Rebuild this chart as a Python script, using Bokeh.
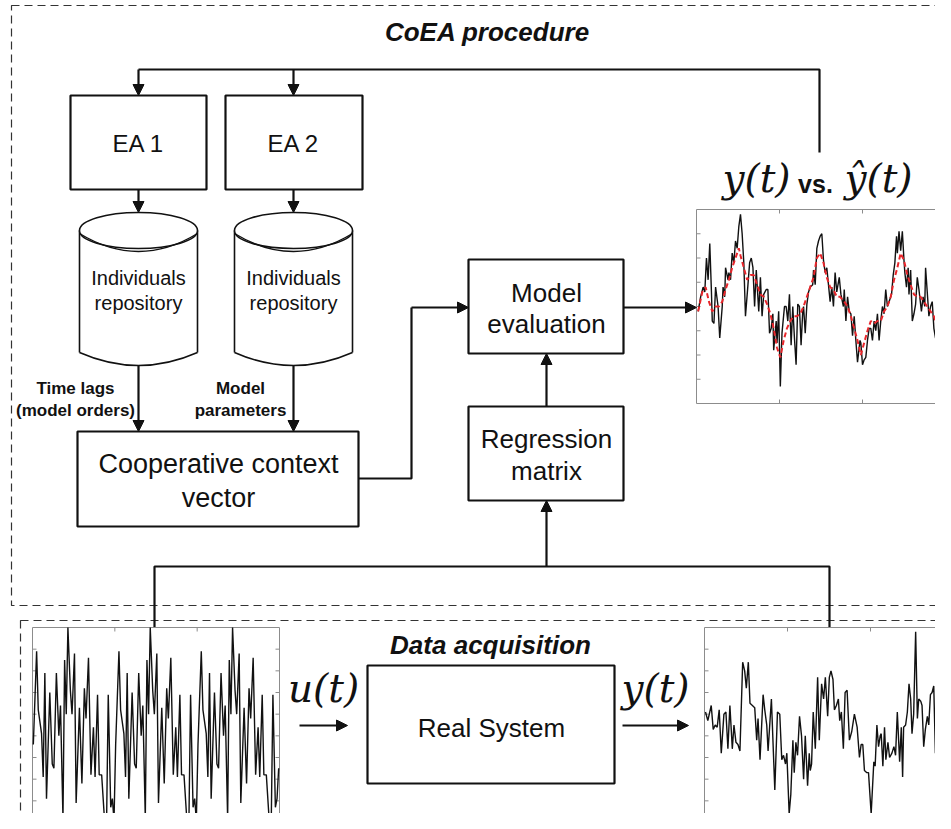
from bokeh.plotting import figure
from bokeh.models import Range1d, Arrow, NormalHead, ColumnDataSource
from bokeh.core.properties import value
from bokeh.embed import file_html
from bokeh.resources import INLINE

# ---------------- data ----------------
# input signal u(t) (bottom-left panel)
u_t = [1, 5, 7, 11, 13, 15, 17, 21, 24, 26, 29, 32, 34, 37, 39, 41, 43, 46, 48, 51,
       53, 57, 60, 63, 65, 68, 71, 74, 76, 79, 81, 84, 87, 90, 92, 95, 97, 99,
       101, 105, 107, 111, 113, 115, 117, 121, 124, 126, 129, 132, 134, 137, 139, 141, 143, 146, 148, 151,
       153, 157, 160, 163, 165, 168, 171, 174, 176, 179, 181, 184, 187, 190, 192, 195, 197, 199,
       201, 205, 207, 211, 213, 215, 217, 221, 224, 226, 229, 232, 234, 237, 239, 241, 243, 246, 248, 251,
       253, 257, 260, 263, 265, 268, 271, 274, 276, 279, 281, 284, 287, 290, 292, 295, 297, 299]
u_v = [3.6, 7.9, 5.2, 4.1, 2.1, 6.9, 1.1, 6.0, 2.7, 2.5, 6.9, 4.0, 5.4, 0.2, 7.5, 5.0, 9.0, 6.1, 5.0, 7.8,
       0.9, 5.3, 1.8, 6.2, 4.8, 7.6, 2.2, 4.4, 2.1, 5.9, 2.2, 2.2, 0.4, 0.1, 5.9, 0.7, 1.1, 0.1,
       3.6, 7.9, 5.2, 4.1, 2.1, 6.9, 1.1, 6.0, 2.7, 2.5, 6.9, 4.0, 5.4, 0.2, 7.5, 5.0, 9.0, 6.1, 5.0, 7.8,
       0.9, 5.3, 1.8, 6.2, 4.8, 7.6, 2.2, 4.4, 2.1, 5.9, 2.2, 2.2, 0.4, 0.1, 5.9, 0.7, 1.1, 0.1,
       3.6, 7.9, 5.2, 4.1, 2.1, 6.9, 1.1, 6.0, 2.7, 2.5, 6.9, 4.0, 5.4, 0.2, 7.5, 5.0, 9.0, 6.1, 5.0, 7.8,
       0.9, 5.3, 1.8, 6.2, 4.8, 7.6, 2.2, 4.4, 2.1, 5.9, 2.2, 2.2, 0.4, 0.1, 5.9, 0.7, 1.1, 2.5]

# measured output y(t) (bottom-right panel)
ym_t = [1.2, 4.0, 8.1, 10.5, 12.9, 15.3, 17.7, 20.2, 23.4, 25.8,
        28.2, 30.6, 33.5, 35.5, 37.9, 40.3, 42.7, 46.0, 48.4, 50.4,
        52.8, 54.8, 57.7, 60.5, 62.9, 64.5, 66.9, 70.6, 72.6, 75.0,
        76.6, 80.6, 84.7, 87.9, 90.7, 93.1, 95.2, 97.6, 99.2, 102.0,
        104.0, 106.5, 108.1, 110.1, 112.1, 114.5, 116.9, 119.4, 121.4, 124.2,
        126.2, 127.4, 129.0, 131.0, 133.5, 136.3, 138.3, 141.1, 143.5, 145.6,
        148.4, 150.4, 152.4, 154.8, 156.5, 158.9, 161.3, 162.9, 164.9, 167.3,
        169.4, 171.8, 174.6, 177.4, 180.6, 183.9, 186.7, 188.7, 190.7, 192.7,
        195.6, 197.6, 200.8, 204.0, 205.6, 207.7, 209.7, 211.7, 212.9, 214.9,
        216.9, 218.5, 221.0, 223.0, 225.8, 228.2, 230.2, 232.3, 235.1, 237.1,
        238.7, 239.9, 242.3, 244.4, 246.4, 248.4, 250.0, 252.0, 254.4, 256.5,
        258.1, 260.5, 262.1, 264.1, 266.1, 268.5, 270.2, 272.2, 274.2, 276.2,
        278.2, 279.4, 281.5, 283.1, 285.5, 287.5, 289.5, 291.5, 293.5, 296.0,
        298.4]
ym_v = [5.1, 4.7, 5.4, 4.3, 4.5, 4.4, 5.2, 3.2, 5.0, 5.1,
        3.4, 5.4, 3.4, 4.5, 3.7, 3.6, 3.3, 7.4, 7.0, 6.2,
        7.4, 5.5, 5.4, 5.3, 3.8, 4.8, 2.9, 5.9, 5.2, 4.5,
        3.3, 5.7, 1.5, 5.1, 5.0, 2.9, 3.1, 2.7, 3.2, 0.4,
        1.3, 3.8, 2.3, 3.7, 3.1, 4.9, 4.0, 2.0, 4.0, 1.7,
        3.2, 2.4, 2.7, 5.1, 3.4, 6.7, 3.8, 6.4, 5.7, 6.7,
        4.9, 6.7, 7.0, 6.6, 5.2, 5.4, 5.7, 4.7, 5.1, 3.4,
        6.0, 6.1, 3.8, 4.2, 5.0, 4.4, 3.0, 3.6, 3.6, 2.4,
        2.3, 2.3, 0.4, 2.8, 2.6, 4.5, 3.5, 4.0, 4.1, 2.6,
        4.4, 2.9, 3.7, 3.0, 3.2, 3.5, 3.1, 5.1, 2.8, 4.4,
        2.1, 4.4, 4.5, 5.1, 6.4, 5.7, 4.1, 5.0, 8.8, 4.8,
        5.7, 5.6, 5.4, 3.5, 4.3, 4.9, 4.5, 5.9, 6.0, 6.3,
        3.2, 6.0, 4.9, 2.9, 4.9, 3.2, 3.3, 2.7, 3.1, 2.7,
        2.4]

# y(t) vs. y-hat(t) (top-right panel)
y_t = [2, 5, 8, 10, 12, 14, 16, 18, 19, 21,
       23, 26, 28, 31, 32, 34, 35, 38, 39, 41,
       43, 45, 47, 49, 51, 53, 55, 57, 59, 62,
       64, 66, 68, 70, 72, 75, 77, 79, 81, 84,
       86, 88, 90, 92, 93, 96, 97, 99, 101, 103,
       106, 108, 110, 112, 114, 116, 118, 120, 122, 124,
       126, 128, 129, 131, 133, 135, 137, 140, 141, 143,
       145, 147, 149, 151, 153, 155, 157, 159, 161, 163,
       165, 167, 169, 172, 174, 177, 178, 180, 182, 184,
       186, 188, 190, 192, 194, 197, 198, 200, 202, 204,
       206, 208, 210, 212, 214, 216, 218, 220, 222, 224,
       226, 228, 230, 232, 235, 237, 239, 241, 242, 244,
       246, 248, 250, 251, 253, 255, 256, 258, 260, 262,
       264, 266, 268, 271, 273, 275, 276, 279, 280, 282,
       284, 286, 288, 290, 292, 294, 296, 298]
y_v = [3.8, 4.4, 4.8, 4.6, 6.0, 5.1, 6.6, 4.6, 3.4, 3.3,
       4.8, 4.0, 2.7, 4.0, 4.8, 4.4, 5.6, 5.1, 5.4, 5.1,
       6.2, 5.8, 6.7, 6.4, 7.3, 7.8, 7.0, 5.8, 3.6, 4.9,
       5.8, 6.0, 5.6, 4.0, 5.5, 3.8, 5.2, 3.6, 4.5, 4.7,
       4.7, 2.9, 3.1, 3.7, 2.2, 3.4, 2.5, 3.8, 0.7, 2.9,
       4.0, 4.0, 3.4, 4.5, 2.4, 4.0, 2.7, 1.6, 4.1, 4.0,
       2.4, 3.8, 4.0, 2.9, 4.1, 4.6, 4.8, 4.9, 5.5, 4.9,
       6.4, 6.7, 6.9, 7.0, 5.9, 5.4, 5.6, 4.9, 4.2, 4.8,
       4.0, 5.4, 4.6, 5.2, 4.5, 4.0, 4.7, 3.4, 4.4, 3.8,
       3.7, 2.8, 3.6, 2.6, 1.7, 2.6, 2.5, 1.6, 1.8, 1.9,
       2.6, 3.1, 3.1, 2.6, 3.4, 3.0, 3.7, 2.6, 3.4, 4.0,
       3.7, 4.7, 4.0, 4.2, 4.5, 5.3, 5.8, 6.9, 6.2, 7.1,
       6.3, 7.1, 5.9, 5.4, 4.8, 5.6, 4.5, 5.5, 3.4, 3.7,
       4.1, 5.2, 4.7, 3.8, 4.4, 4.0, 5.6, 4.1, 3.6, 4.0,
       4.2, 3.1, 2.7, 3.4, 1.9, 2.6, 1.2, 0.3]
yhat_t = [2, 7, 11, 15, 19, 23, 27, 31, 35, 39,
          43, 47, 51, 53, 57, 61, 65, 69, 73, 77,
          81, 85, 89, 93, 97, 101, 105, 109, 113, 117,
          121, 125, 129, 133, 137, 141, 145, 149, 153, 157,
          161, 165, 169, 173, 178, 182, 186, 190, 194, 198,
          202, 206, 210, 214, 218, 222, 226, 230, 234, 238,
          242, 246, 250, 254, 258, 262, 266, 270, 274, 278,
          282, 286, 290, 294, 298]
yhat_v = [3.8, 4.6, 4.8, 4.2, 3.8, 4.0, 4.0, 4.2, 4.7, 5.1,
          5.6, 6.0, 6.4, 6.1, 5.6, 5.1, 5.3, 5.3, 4.9, 4.5,
          4.4, 4.1, 3.7, 3.1, 2.3, 1.9, 2.6, 3.1, 3.4, 3.6,
          3.6, 3.7, 4.0, 4.4, 4.8, 5.2, 6.0, 6.2, 5.8, 5.2,
          4.8, 4.7, 4.4, 4.4, 4.2, 4.0, 3.6, 3.1, 2.6, 2.0,
          2.5, 3.0, 3.4, 3.3, 3.4, 3.4, 3.8, 4.0, 4.4, 5.1,
          5.6, 6.2, 5.9, 5.3, 4.9, 4.5, 4.4, 4.4, 4.2, 4.0,
          3.8, 3.6, 3.1, 2.7, 2.0]

x_ticks = [100, 200]

# ---------------- figure ----------------
FONT = "Liberation Sans"
MATH = "DejaVu Serif"
BLACK = "#111111"

p = figure(width=935, height=813, x_range=Range1d(0, 935), y_range=Range1d(813, 0),
           x_axis_location=None, y_axis_location=None, toolbar_location=None,
           output_backend="svg", min_border=0, outline_line_color=None,
           background_fill_color="white")
p.grid.visible = False

# dashed group frames
p.quad(left=[11, 20], right=[980, 980], top=[5, 620], bottom=[605, 860],
       fill_color=None, line_color="#333333", line_width=1.2, line_dash="8 5")

# solid boxes: EA1, EA2, cooperative, model evaluation, regression, real system
p.quad(left=[70, 225, 77, 468, 468, 367], right=[206, 362, 358, 623, 623, 614],
       top=[95, 95, 431, 259, 406, 665], bottom=[189, 189, 526, 353, 500, 783],
       fill_color="white", line_color=BLACK, line_width=2.2)

# cylinders (repositories)
cx = [138, 293]
p.segment(x0=[79, 197, 234, 352], y0=[230] * 4, x1=[79, 197, 234, 352], y1=[352] * 4,
          line_color=BLACK, line_width=1.6)
p.quadratic(x0=[79, 234], y0=[352, 352], x1=[197, 352], y1=[352, 352],
            cx=[138, 293], cy=[378, 378], line_color=BLACK, line_width=1.6)
p.ellipse(x=cx, y=[230, 230], width=[118, 118], height=[36, 36],
          fill_color="white", line_color=BLACK, line_width=1.6)
p.quadratic(x0=[79, 234], y0=[233, 233], x1=[197, 352], y1=[233, 233],
            cx=[138, 293], cy=[269, 269], line_color=BLACK, line_width=1.4)

# connector polylines
p.multi_line(xs=[[138, 819, 819], [358, 411, 411], [154, 154, 829, 829]],
             ys=[[69, 69, 152], [478, 478, 307], [627, 566, 566, 627]],
             line_color=BLACK, line_width=2.2)

# arrows
arr = ColumnDataSource(dict(
    x0=[138, 293, 138, 293, 138, 293, 411, 623, 546, 546, 299, 622],
    y0=[69, 69, 189, 189, 365, 365, 307, 307, 406, 566, 725, 725],
    x1=[138, 293, 138, 293, 138, 293, 468, 696, 546, 546, 347, 688],
    y1=[95, 95, 212, 212, 431, 431, 307, 307, 353, 500, 725, 725]))
p.add_layout(Arrow(end=NormalHead(size=11, fill_color=BLACK, line_color=BLACK, line_width=1),
                   x_start="x0", y_start="y0", x_end="x1", y_end="y1",
                   source=arr, line_color=BLACK, line_width=2.2))


def txt(xs, ys, texts, size, style="normal", font=FONT):
    p.text(x=xs, y=ys, text=texts, text_font=value(font), text_font_size=size,
           text_font_style=style, text_align="center", text_baseline="middle",
           text_color=BLACK)


txt([487], [31], ["CoEA procedure"], "26px", "bold italic")
txt([490], [644], ["Data acquisition"], "26px", "bold italic")
txt([138, 293], [143, 143], ["EA 1", "EA 2"], "24px")
txt([138, 293, 138, 293], [277, 277, 302, 302],
    ["Individuals", "Individuals", "repository", "repository"], "20px")
txt([75, 75, 240, 240], [388, 410, 388, 410],
    ["Time lags", "(model orders)", "Model", "parameters"], "17px", "bold")
txt([218, 218], [463, 497], ["Cooperative context", "vector"], "27px")
txt([546, 546, 546, 546], [292, 323, 438, 470],
    ["Model", "evaluation", "Regression", "matrix"], "26px")
txt([491], [727], ["Real System"], "26px")
txt([323, 655, 756, 878], [688, 688, 178, 178], ["u(t)", "y(t)", "y(t)", "ŷ(t)"],
    "39px", "italic", MATH)
txt([815], [183], ["vs."], "25px", "bold")


# small signal panels
def panel(x_target, y_target, ymax):
    s = p.subplot(x_source=Range1d(0, 300), y_source=Range1d(0, ymax),
                  x_target=Range1d(*x_target), y_target=Range1d(*y_target))
    s.quad(left=[0], right=[300], bottom=[0], top=[ymax], fill_color="white",
           line_color="#8c8c8c", line_width=1)
    xl = 300 * 4 / (x_target[1] - x_target[0])
    yl = ymax * 4 / abs(y_target[0] - y_target[1])
    yt = list(range(1, ymax))
    s.segment(x0=x_ticks + x_ticks, y0=[0, 0, ymax, ymax],
              x1=x_ticks + x_ticks, y1=[yl, yl, ymax - yl, ymax - yl],
              line_color="#8c8c8c", line_width=1)
    s.segment(x0=[0] * len(yt) + [300] * len(yt), y0=yt + yt,
              x1=[xl] * len(yt) + [300 - xl] * len(yt), y1=yt + yt,
              line_color="#8c8c8c", line_width=1)
    return s


s_u = panel((32, 279), (822, 627), 9)
s_u.line(x=u_t, y=u_v, line_color=BLACK, line_width=1.4)

s_y = panel((704, 953), (822, 627), 9)
s_y.line(x=ym_t, y=ym_v, line_color=BLACK, line_width=1.4)

s_c = panel((696, 945), (403, 209), 8)
s_c.line(x=y_t, y=y_v, line_color=BLACK, line_width=1.4)
s_c.line(x=yhat_t, y=yhat_v, line_color="#e8262b", line_width=2, line_dash="5 3")

open("out.html", "w").write(file_html(p, INLINE))
